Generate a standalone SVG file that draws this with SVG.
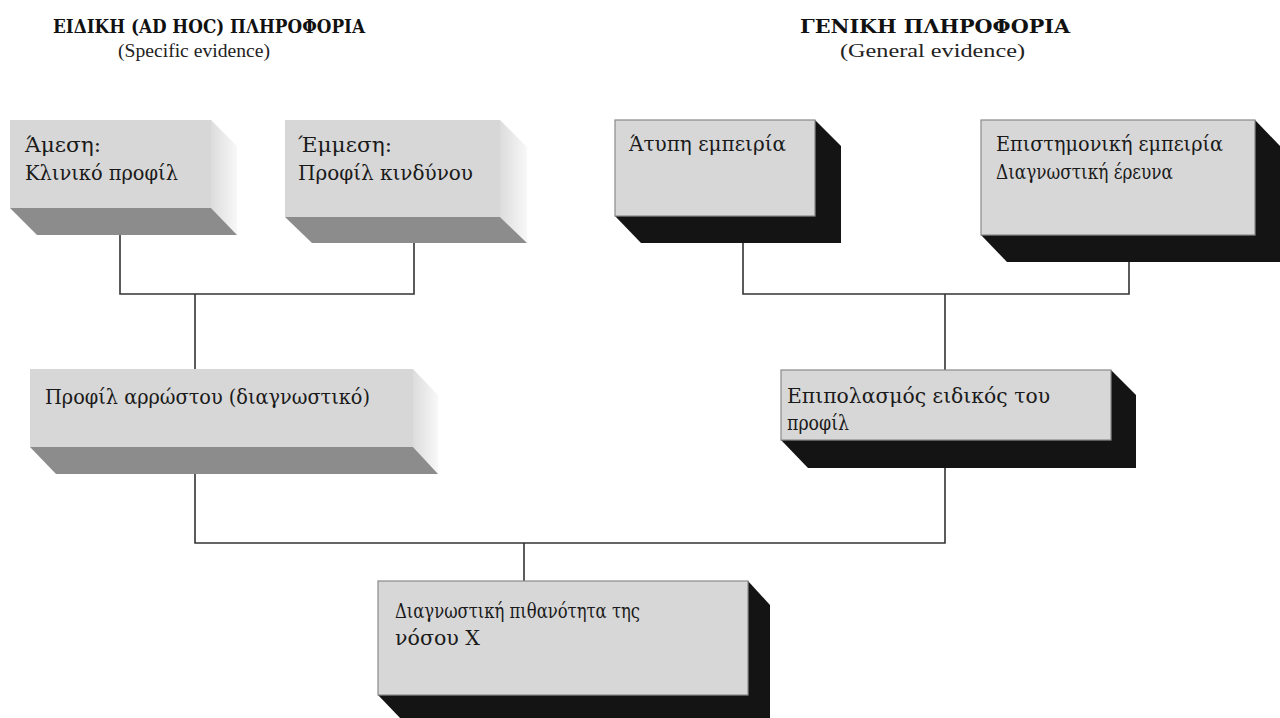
<svg xmlns="http://www.w3.org/2000/svg" width="1280" height="718" viewBox="0 0 1280 718">
<defs>
<linearGradient id="side" x1="0" y1="0" x2="1" y2="0">
<stop offset="0" stop-color="#dcdcdc"/>
<stop offset="1" stop-color="#f8f8f8"/>
</linearGradient>
<style>
.face{fill:#d7d7d7;}
.faceb{fill:#d7d7d7;stroke:#8a8a8a;stroke-width:1.2;}
.side{fill:url(#side);}
.bottom{fill:#8c8c8c;}
.shadow{fill:#141414;}
.t{font-family:"DejaVu Serif Condensed","DejaVu Serif","Liberation Serif",serif;font-size:21px;fill:#1a1a1a;}
.h{font-family:"DejaVu Serif Condensed","DejaVu Serif","Liberation Serif",serif;font-size:18px;font-weight:bold;fill:#111;}
.s{font-family:"Liberation Serif","DejaVu Serif",serif;font-size:18px;fill:#222;}
.c{fill:none;stroke:#333;stroke-width:1.6;}
</style>
</defs>
<rect width="1280" height="718" fill="#ffffff"/>

<g id="titles">
<text class="h" x="53" y="33" textLength="312" lengthAdjust="spacingAndGlyphs">ΕΙΔΙΚΗ (AD HOC) ΠΛΗΡΟΦΟΡΙΑ</text>
<text class="s" x="118" y="57" textLength="152" lengthAdjust="spacingAndGlyphs">(Specific evidence)</text>
<text class="h" x="800" y="33" textLength="270" lengthAdjust="spacingAndGlyphs">ΓΕΝΙΚΗ ΠΛΗΡΟΦΟΡΙΑ</text>
<text class="s" x="840" y="57" textLength="185" lengthAdjust="spacingAndGlyphs">(General evidence)</text>
</g>

<g id="connectors">
<path class="c" d="M120 235 V294 H414 V243"/>
<path class="c" d="M195 294 V369"/>
<path class="c" d="M743 243 V294 H1129 V262"/>
<path class="c" d="M945 294 V370"/>
<path class="c" d="M195 473 V543 H945 V468"/>
<path class="c" d="M524 543 V581"/>
</g>

<g id="box-amesi">
<polygon class="side" points="211,120 237,146 237,235 211,208"/>
<polygon class="bottom" points="10,208 211,208 237,235 37,235"/>
<rect class="face" x="10" y="120" width="201" height="88"/>
<text class="t" x="25" y="152" textLength="76" lengthAdjust="spacingAndGlyphs">Άμεση:</text>
<text class="t" x="25" y="180" textLength="153" lengthAdjust="spacingAndGlyphs">Κλινικό προφίλ</text>
</g>

<g id="box-emmesi">
<polygon class="side" points="500,120 527,147 527,243 500,217"/>
<polygon class="bottom" points="285,217 500,217 527,243 312,243"/>
<rect class="face" x="285" y="120" width="215" height="97"/>
<text class="t" x="298" y="152" textLength="94" lengthAdjust="spacingAndGlyphs">Έμμεση:</text>
<text class="t" x="298" y="180" textLength="175" lengthAdjust="spacingAndGlyphs">Προφίλ κινδύνου</text>
</g>

<g id="box-atypi">
<polygon class="shadow" points="615,216 641,243 841,243 841,146 815,120"/>
<rect class="faceb" x="615" y="120" width="200" height="96"/>
<text class="t" x="629" y="151" textLength="157" lengthAdjust="spacingAndGlyphs">Άτυπη εμπειρία</text>
</g>

<g id="box-epistimoniki">
<polygon class="shadow" points="981,235 1007,262 1280,262 1280,146 1255,120"/>
<rect class="faceb" x="981" y="120" width="274" height="115"/>
<text class="t" x="996" y="151" textLength="227" lengthAdjust="spacingAndGlyphs">Επιστημονική εμπειρία</text>
<text class="t" x="996" y="179" textLength="177" lengthAdjust="spacingAndGlyphs">Διαγνωστική έρευνα</text>
</g>

<g id="box-profil">
<polygon class="side" points="413,369 438,395 438,474 413,447"/>
<polygon class="bottom" points="30,447 413,447 438,474 56,474"/>
<rect class="face" x="30" y="369" width="383" height="78"/>
<text class="t" x="45" y="404" textLength="325" lengthAdjust="spacingAndGlyphs">Προφίλ αρρώστου (διαγνωστικό)</text>
</g>

<g id="box-epipolasmos">
<polygon class="shadow" points="781,440 808,468 1136,468 1136,395 1111,370"/>
<rect class="faceb" x="781" y="370" width="330" height="70"/>
<text class="t" x="787" y="403" textLength="263" lengthAdjust="spacingAndGlyphs">Επιπολασμός ειδικός του</text>
<text class="t" x="787" y="430" textLength="62" lengthAdjust="spacingAndGlyphs">προφίλ</text>
</g>

<g id="box-pithanotita">
<polygon class="shadow" points="378,695 402,720 770,720 770,605 748,581"/>
<rect class="faceb" x="378" y="581" width="370" height="114"/>
<text class="t" x="395" y="618" textLength="245" lengthAdjust="spacingAndGlyphs">Διαγνωστική πιθανότητα της</text>
<text class="t" x="395" y="645" textLength="85" lengthAdjust="spacingAndGlyphs">νόσου Χ</text>
</g>
</svg>
